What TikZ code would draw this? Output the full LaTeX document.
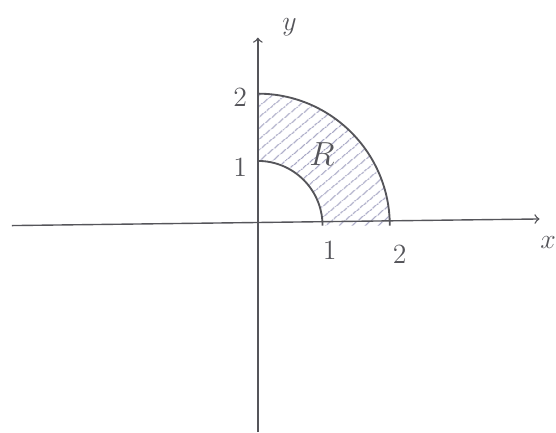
\documentclass[tikz,border=0pt]{standalone}
\usepackage{tikz}
\usetikzlibrary{arrows,patterns.meta,positioning}
\definecolor{pencil}{RGB}{85,85,90}
\definecolor{hatch}{RGB}{165,165,195}
\tikzset{
  axis/.style={draw=pencil,line width=0.6pt,->,>=to},
  rim/.style={draw=pencil,line width=0.8pt},
  lbl/.style={text=pencil,font=\large,inner sep=1pt}
}
\begin{document}
\begin{tikzpicture}[x=1cm,y=1cm]
  \useasboundingbox (-3.91,-3.13) rectangle (4.52,3.42);
  % region R
  \fill[pattern={Lines[angle=40,distance=4pt,line width=0.5pt]},pattern color=hatch]
    (1,0) -- (2,0) arc[start angle=0,end angle=90,radius=2]
    -- (0,1) arc[start angle=90,end angle=0,radius=1] -- cycle;
  \draw[rim] (2,0) arc[start angle=0,end angle=90,radius=2];
  \draw[rim] (0.98,0) arc[start angle=0,end angle=90,radius=0.98];
  % axes
  \coordinate (xs) at (-3.73,0);
  \coordinate (xe) at (4.27,0.1);
  \coordinate (ys) at (0,-3.13);
  \coordinate (ye) at (0,2.85);
  \draw[axis] (xs) -- (xe);
  \draw[axis] (ys) -- (ye);
  \node[lbl] (xl) at (4.4,-0.26) {$x$};
  \node[lbl] (yl) at (0.48,3.0) {$y$};
  \node[lbl,font=\Large] (r) at (0.97,1.08) {$R$};
  \node[lbl] (x1) at (1.09,-0.38) {1};
  \node[lbl] (x2) at (2.15,-0.44) {2};
  \node[lbl] (y1) at (-0.27,0.88) {1};
  \node[lbl] (y2) at (-0.27,1.95) {2};
\end{tikzpicture}
\end{document}
